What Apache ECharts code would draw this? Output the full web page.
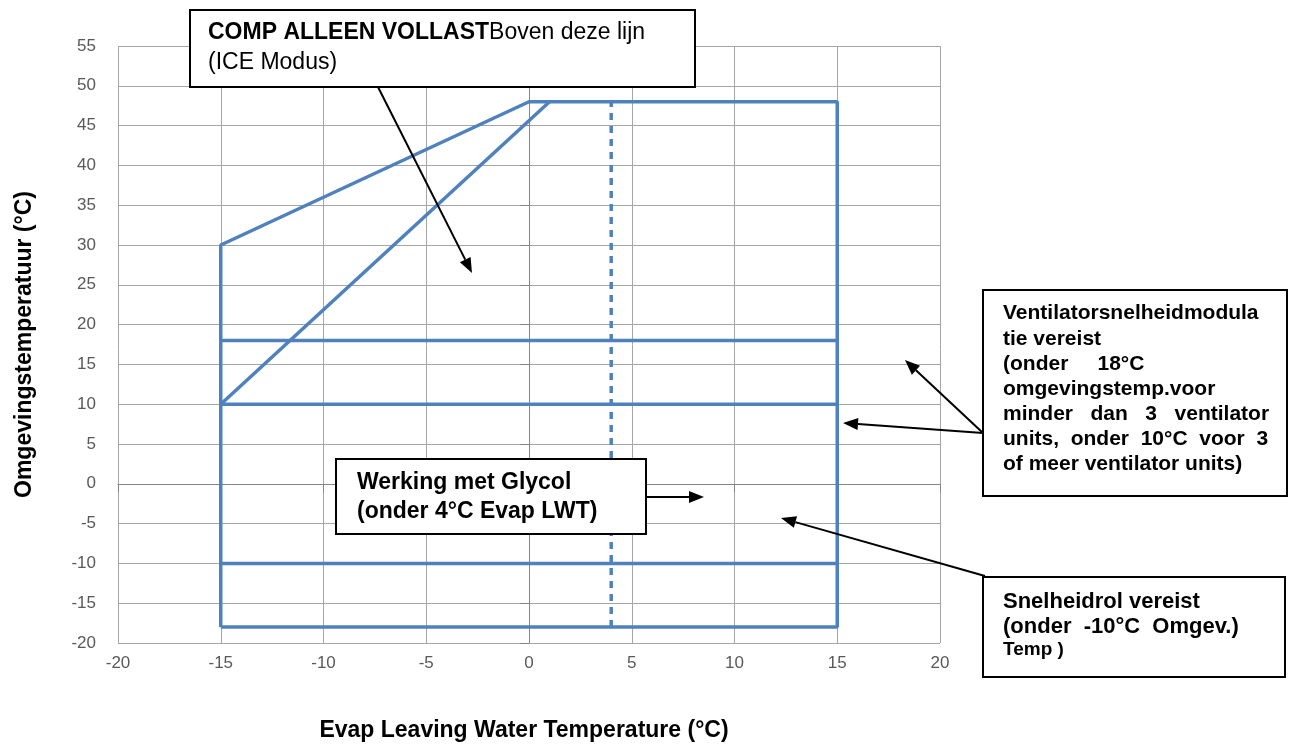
<!DOCTYPE html>
<html>
<head>
<meta charset="utf-8">
<script src="https://cdn.jsdelivr.net/npm/echarts@6/dist/echarts.min.js"></script>
<style>
  html, body { margin: 0; padding: 0; background: #fff; }
  #chart { width: 1293px; height: 744px; }
</style>
</head>
<body>
<div id="chart"></div>
<script>
// axis ticks
var xTicks = [-20, -15, -10, -5, 0, 5, 10, 15, 20];
var yTicks = [-20, -15, -10, -5, 0, 5, 10, 15, 20, 25, 30, 35, 40, 45, 50, 55];

// envelope outline (evap LWT, ambient temp)
var envelope = [[-15, -18], [15, -18], [15, 48], [0, 48], [-15, 30], [-15, -18]];
var iceLine = [[-15, 10], [1, 48]];
var fan18 = [[-15, 18], [15, 18]];
var fan10 = [[-15, 10], [15, 10]];
var speedMinus10 = [[-15, -10], [15, -10]];
var glycolLine = [[4, -18], [4, 48]];

var blue = '#4f81bd';
var font = '"Liberation Sans", Arial, sans-serif';

function arrow(x1, y1, x2, y2) {
    var a = Math.atan2(y2 - y1, x2 - x1);
    var len = 15, w = 6;
    var bx = x2 - len * Math.cos(a), by = y2 - len * Math.sin(a);
    var px = -Math.sin(a) * w, py = Math.cos(a) * w;
    return [
        { type: 'line', z: 10, shape: { x1: x1, y1: y1, x2: bx, y2: by }, style: { stroke: '#000', lineWidth: 2 } },
        { type: 'polygon', z: 10, shape: { points: [[x2, y2], [bx + px, by + py], [bx - px, by - py]] }, style: { fill: '#000' } }
    ];
}

function box(x, y, w, h) {
    return { type: 'rect', z: 9, shape: { x: x, y: y, width: w, height: h }, style: { fill: '#fff', stroke: '#000', lineWidth: 2 } };
}

function lines(x, ys, texts, size) {
    return texts.map(function (t, i) {
        return { type: 'text', z: 11, x: x, y: ys[i], style: { text: t, font: 'bold ' + size + 'px ' + font, fill: '#000', textVerticalAlign: 'middle' } };
    });
}

var graphics = [];
// top box
graphics = graphics.concat(arrow(378, 87, 472, 273));
graphics.push(box(190, 10, 505, 77));
graphics.push({
    type: 'text', z: 11, x: 208, y: 18,
    style: {
        text: '{b|COMP ALLEEN VOLLAST}{n|Boven deze lijn}\n{n|(ICE Modus)}',
        rich: {
            b: { font: 'bold 23px ' + font, fill: '#000', lineHeight: 30 },
            n: { font: '23px ' + font, fill: '#000', lineHeight: 30 }
        }
    }
});
// fan speed box
graphics = graphics.concat(arrow(983, 433, 905, 360));
graphics = graphics.concat(arrow(983, 433, 843, 423));
graphics.push(box(983, 290, 304, 206));
graphics = graphics.concat(lines(1003, [313, 339, 364, 389, 414, 439, 464], [
    'Ventilatorsnelheidmodula',
    'tie vereist',
    '(onder     18°C',
    'omgevingstemp.voor',
    'minder   dan   3   ventilator',
    'units,  onder  10°C  voor  3',
    'of meer ventilator units)'
], 21));
// glycol box
graphics = graphics.concat(arrow(646, 497, 704, 497));
graphics.push(box(336, 459, 310, 75));
graphics = graphics.concat(lines(357, [483, 512], ['Werking met Glycol', '(onder 4°C Evap LWT)'], 23));
// speed control box
graphics = graphics.concat(arrow(985, 576, 781, 518));
graphics.push(box(983, 577, 302, 100));
graphics = graphics.concat(lines(1003, [602, 627], ['Snelheidrol vereist', '(onder  -10°C  Omgev.)'], 22));
graphics = graphics.concat(lines(1003, [650], ['Temp )'], 19));

function seg(name, data, dashed) {
    return {
        name: name, type: 'line', data: data, symbol: 'none', silent: true,
        lineStyle: { color: blue, width: 3.5, type: dashed ? [7, 6] : 'solid' }
    };
}

var chart = echarts.init(document.getElementById('chart'));
chart.setOption({
    animation: false,
    backgroundColor: '#fff',
    grid: { left: 118, right: 353, top: 46, bottom: 101, containLabel: false, outerBoundsMode: 'none' },
    xAxis: {
        type: 'value', min: xTicks[0], max: xTicks[xTicks.length - 1], interval: 5,
        name: 'Evap Leaving Water Temperature (°C)', nameLocation: 'middle', nameGap: 76,
        nameTextStyle: { fontFamily: font, fontWeight: 'bold', fontSize: 23, color: '#000', padding: [0, 10, 0, 0] },
        axisLine: { show: true, lineStyle: { color: '#868686' } },
        axisTick: { show: true, length: 9, lineStyle: { color: '#868686' } },
        axisLabel: { color: '#595959', fontFamily: font, fontSize: 17, margin: 12 },
        splitLine: { show: true, lineStyle: { color: '#a6a6a6' } }
    },
    yAxis: {
        type: 'value', min: yTicks[0], max: yTicks[yTicks.length - 1], interval: 5,
        name: 'Omgevingstemperatuur (°C)', nameLocation: 'middle', nameGap: 82,
        nameTextStyle: { fontFamily: font, fontWeight: 'bold', fontSize: 23, color: '#000' },
        axisLine: { show: true, lineStyle: { color: '#868686' } },
        axisTick: { show: true, length: 9, lineStyle: { color: '#868686' } },
        axisLabel: { color: '#595959', fontFamily: font, fontSize: 17, margin: 22 },
        splitLine: { show: true, lineStyle: { color: '#a6a6a6' } }
    },
    series: [
        seg('envelope', envelope),
        seg('ice', iceLine),
        seg('fan18', fan18),
        seg('fan10', fan10),
        seg('speed', speedMinus10),
        seg('glycol', glycolLine, true)
    ],
    graphic: graphics
});
</script>
</body>
</html>
